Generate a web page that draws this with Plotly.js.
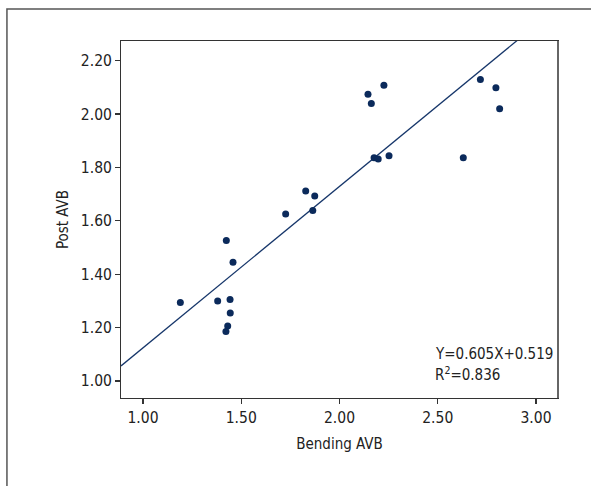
<!DOCTYPE html>
<html>
<head>
<meta charset="utf-8">
<script src="https://cdn.plot.ly/plotly-3.0.1.min.js"></script>
<style>
html,body{margin:0;padding:0;background:#fff;}
#chart{width:591px;height:486px;}
</style>
</head>
<body>
<div id="chart"></div>
<script>
// Data
const bendingAVB = [1.424, 1.458, 1.190, 1.380, 1.443, 1.444, 1.431, 1.422, 1.726, 1.828, 1.874,
                    1.864, 2.145, 2.162, 2.226, 2.176, 2.197, 2.252, 2.630, 2.717, 2.796, 2.815];
const postAVB    = [1.526, 1.445, 1.294, 1.300, 1.305, 1.255, 1.206, 1.185, 1.626, 1.712, 1.693,
                    1.639, 2.074, 2.040, 2.108, 1.836, 1.832, 1.844, 1.836, 2.130, 2.099, 2.020];
const slope = 0.605;
const intercept = 0.519;
const xRange = [0.888, 3.112];
const yRange = [0.936, 2.274];
const xTicks = [1.0, 1.5, 2.0, 2.5, 3.0];
const yTicks = [1.0, 1.2, 1.4, 1.6, 1.8, 2.0, 2.2];
const eqText = 'Y=0.605X+0.519';
const r2Text = 'R<sup>2</sup>=0.836';

const FONT = '"Liberation Sans Narrow", "DejaVu Sans Condensed", "Liberation Sans", sans-serif';
const navy = '#0b2a5b';

const lineX = xRange.slice();
const lineY = lineX.map(v => slope * v + intercept);

const traces = [
  {x: lineX, y: lineY, mode: 'lines', type: 'scatter',
   line: {color: '#16366a', width: 1.3}, hoverinfo: 'skip', showlegend: false, cliponaxis: true},
  {x: bendingAVB, y: postAVB, mode: 'markers', type: 'scatter',
   marker: {color: navy, size: 7}, showlegend: false}
];

const axisCommon = {
  showgrid: false, zeroline: false, showline: true, mirror: true,
  linecolor: '#333', linewidth: 1, ticks: 'outside', ticklen: 5, tickwidth: 1.3,
  tickcolor: '#333', tickformat: '.2f', tickfont: {family: FONT, size: 15.5, color: '#222'}
};

const layout = {
  width: 591, height: 486,
  margin: {l: 121, r: 33, t: 41, b: 88},
  paper_bgcolor: '#fff', plot_bgcolor: '#fff',
  font: {family: FONT, size: 15, color: '#222'},
  xaxis: Object.assign({}, axisCommon, {
    range: xRange, tickvals: xTicks,
    title: {text: 'Bending AVB', font: {family: FONT, size: 15, color: '#222'}, standoff: 12}
  }),
  yaxis: Object.assign({}, axisCommon, {
    range: yRange, tickvals: yTicks,
    title: {text: 'Post AVB', font: {family: FONT, size: 15, color: '#222'}, standoff: 8}
  }),
  shapes: [
    {type: 'rect', xref: 'paper', yref: 'paper', x0: -0.261, x1: 1.3, y0: -0.5, y1: 1.0896,
     line: {color: '#555', width: 1.5}, fillcolor: 'rgba(0,0,0,0)', layer: 'below'},
    {type: 'line', xref: 'paper', yref: 'paper', x0: 1, x1: 1, y0: 0, y1: 1,
     line: {color: '#666', width: 2}}
  ],
  annotations: [
    {xref: 'paper', yref: 'paper', x: 0.714, y: 0.124, xanchor: 'left', yanchor: 'middle',
     text: eqText, showarrow: false, font: {family: FONT, size: 15, color: '#222'}},
    {xref: 'paper', yref: 'paper', x: 0.714, y: 0.066, xanchor: 'left', yanchor: 'middle',
     text: r2Text, showarrow: false, font: {family: FONT, size: 15, color: '#222'}}
  ],
  showlegend: false
};

Plotly.newPlot('chart', traces, layout, {staticPlot: true, displayModeBar: false});
</script>
</body>
</html>
